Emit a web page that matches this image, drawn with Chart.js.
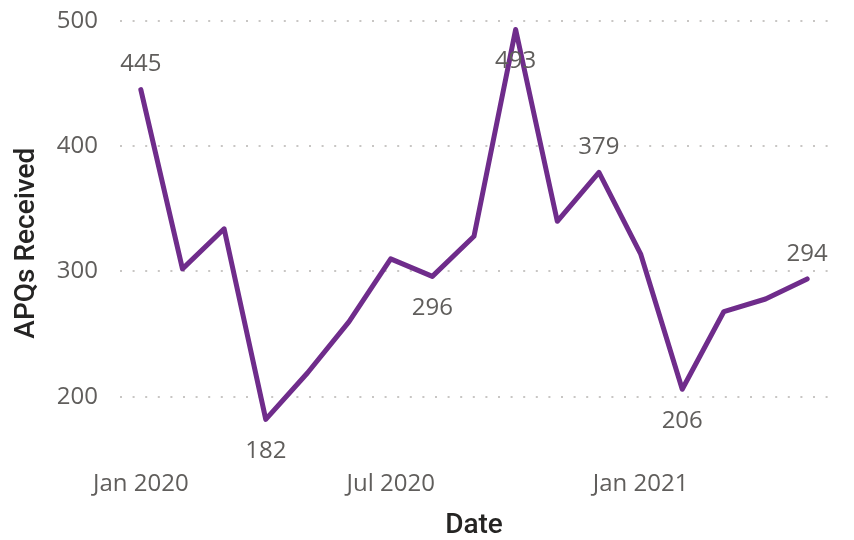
<!DOCTYPE html>
<html>
<head>
<meta charset="utf-8">
<script src="https://cdn.jsdelivr.net/npm/chart.js@4/dist/chart.umd.min.js"></script>
<style>
  html, body { margin: 0; padding: 0; background: #fff; }
  #wrap { width: 854px; height: 540px; position: relative; }
</style>
</head>
<body>
<div id="wrap"><canvas id="grafico"></canvas></div>
<script>
// meses (una entrada por punto) y valores recibidos
const meses = ['Jan 2020', 'Feb 2020', 'Mar 2020', 'Apr 2020', 'May 2020', 'Jun 2020',
               'Jul 2020', 'Aug 2020', 'Sep 2020', 'Oct 2020', 'Nov 2020', 'Dec 2020',
               'Jan 2021', 'Feb 2021', 'Mar 2021', 'Apr 2021', 'May 2021'];
const apqs = [445, 302, 334, 182, 219, 260, 310, 296, 328, 493, 340, 379, 314, 206, 268, 278, 294];

// solo estas etiquetas de eje x se muestran
const etiquetasVisibles = ['Jan 2020', 'Jul 2020', 'Jan 2021'];
const ticksY = [200, 300, 400, 500];

// puntos con valor escrito y si va arriba o abajo
const puntosConEtiqueta = [0, 3, 7, 9, 11, 13, 16];
const posicionEtiqueta = ['arriba', 'abajo', 'abajo', 'abajo', 'arriba', 'abajo', 'arriba'];

const fuente = '"Segoe UI", "Open Sans", sans-serif';
const gris = '#605E5C';

// plugin para dibujar los valores junto a la línea
const etiquetasDatos = {
    id: 'etiquetasDatos',
    afterDatasetsDraw(chart) {
        const ctx = chart.ctx;
        const meta = chart.getDatasetMeta(0);
        ctx.save();
        ctx.font = '24px ' + fuente;
        ctx.fillStyle = gris;
        ctx.textAlign = 'center';
        ctx.textBaseline = 'middle';
        puntosConEtiqueta.forEach((i, k) => {
            const p = meta.data[i];
            const dy = posicionEtiqueta[k] === 'arriba' ? -25 : 32;
            ctx.fillText(String(apqs[i]), p.x, p.y + dy);
        });
        ctx.restore();
    }
};

new Chart(document.getElementById('grafico'), {
    type: 'line',
    data: {
        labels: meses,
        datasets: [{
            label: 'APQs Received',
            data: apqs,
            borderColor: '#6F2C8B',
            borderWidth: 5,
            borderJoinStyle: 'round',
            borderCapStyle: 'round',
            pointRadius: 0,
            tension: 0,
            fill: false
        }]
    },
    options: {
        responsive: true,
        maintainAspectRatio: false,
        animation: false,
        layout: { padding: { top: 0, right: 26, left: 0, bottom: 0 } },
        plugins: {
            legend: { display: false },
            tooltip: { enabled: false }
        },
        scales: {
            x: {
                offset: true,
                grid: { display: false, drawTicks: false },
                border: { display: false },
                afterFit: s => { s.height = 68; },
                ticks: {
                    autoSkip: false,
                    maxRotation: 0,
                    padding: -2,
                    color: gris,
                    font: { family: fuente, size: 24 },
                    callback: function (v, i) {
                        const l = meses[i];
                        return etiquetasVisibles.includes(l) ? l : '';
                    }
                },
                title: {
                    display: true,
                    text: 'Date',
                    color: '#252423',
                    padding: { top: 0, bottom: -3 },
                    font: { family: 'Roboto, sans-serif', size: 28, weight: '500' }
                }
            },
            y: {
                min: 140,
                max: 505,
                afterFit: s => { s.width = 120; },
                afterBuildTicks: s => { s.ticks = ticksY.map(v => ({ value: v })); },
                grid: {
                    drawTicks: true,
                    tickLength: 22,
                    tickColor: 'rgba(0,0,0,0)',
                    color: '#C8C6C4',
                    lineWidth: 2
                },
                border: { display: false, dash: [2, 10.6] },
                ticks: {
                    padding: 0,
                    color: gris,
                    font: { family: fuente, size: 24 }
                },
                title: {
                    display: true,
                    text: 'APQs Received',
                    color: '#252423',
                    padding: { top: 10, bottom: 0 },
                    font: { family: 'Roboto, sans-serif', size: 28, weight: '500' }
                }
            }
        }
    },
    plugins: [etiquetasDatos]
});
</script>
</body>
</html>
